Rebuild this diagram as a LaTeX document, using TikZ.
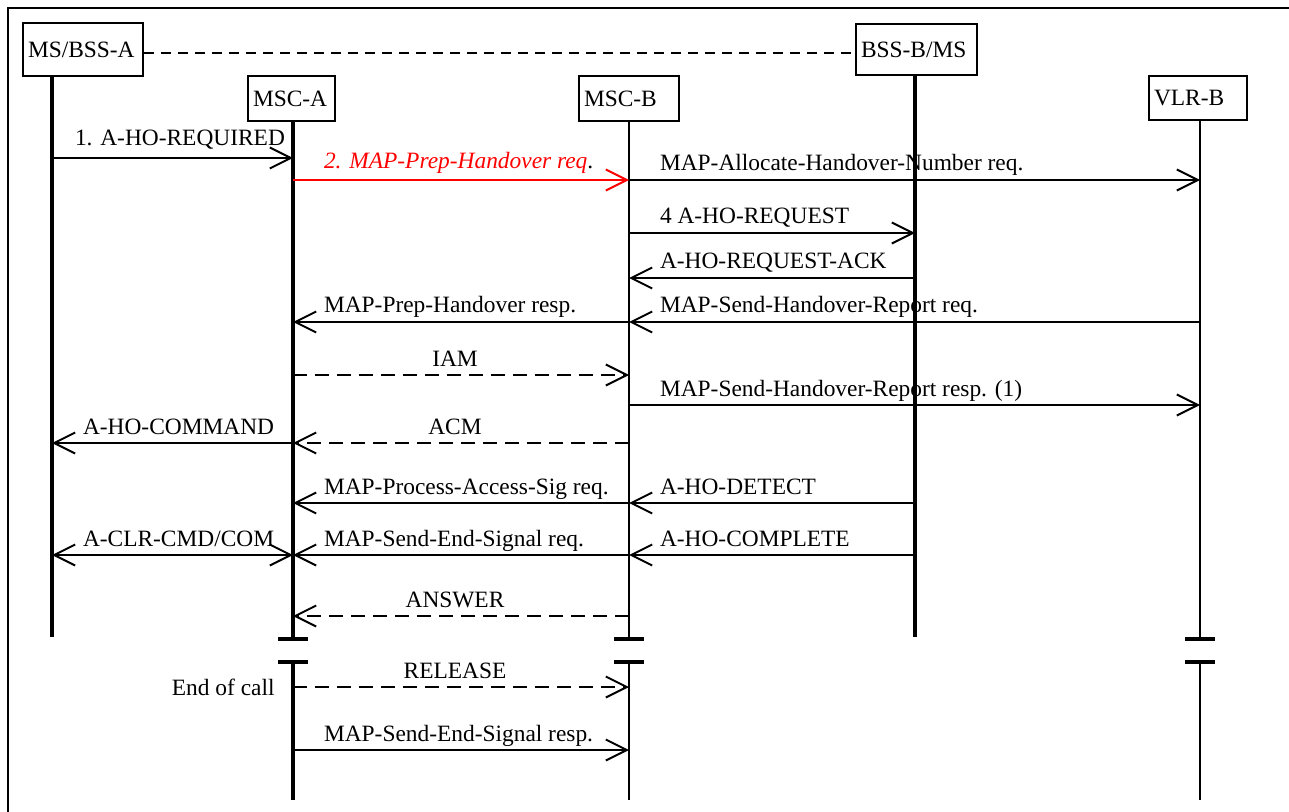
\documentclass[tikz,border=0pt]{standalone}
\usepackage{fontspec}
\setmainfont{Liberation Serif}
\usetikzlibrary{arrows.meta}

\tikzset{
  >={Straight Barb[length=10.5pt, width=10.5pt]},
  entity/.style={draw, line width=1pt, anchor=north west, inner xsep=2.5pt, inner ysep=0pt, align=left},
  life/.style={line width=2pt},
  lifethin/.style={line width=1.35pt},
  bar/.style={line width=2pt},
  msg/.style={line width=1pt, ->},
  ret/.style={msg, dash pattern=on 7pt off 4pt},
  lbl/.style={anchor=base west, inner sep=0pt, xshift=15pt, yshift=4.5pt},
  clbl/.style={anchor=base, inner sep=0pt, xshift=-3pt, yshift=4.5pt}
}

\begin{document}
\begin{tikzpicture}[x=0.5pt, y=-0.5pt, font=\fontsize{11.7}{14}\selectfont]
\useasboundingbox (0,0) rectangle (1289,812);
% frame
\draw[line width=1pt] (8,812) -- (8,8) -- (1289,8);

% entities
\node[entity, text width=55pt, minimum height=26.5pt] (msa) at (22,22) {MS/BSS-A};
\node[entity, text width=38.5pt, minimum height=22.5pt] (msca) at (247,75) {MSC-A};
\node[entity, text width=45pt, minimum height=22.5pt] (mscb) at (578,75) {MSC-B};
\node[entity, text width=55.5pt, minimum height=25.5pt] (bssb) at (855,23) {BSS-B/MS};
\node[entity, text width=44pt, minimum height=22pt] (vlrb) at (1148,75) {VLR-B};
\draw[line width=1pt, dash pattern=on 5pt off 3.5pt] ([yshift=-2pt]msa.east) -- ([yshift=-2pt]bssb.west);

% lifelines
\coordinate (la) at (52,75);
\coordinate (lb) at (293,120);
\coordinate (lc) at (629,120);
\coordinate (ld) at (915,74);
\coordinate (le) at (1200,119);
\draw[life] (la) -- (la |- 0,637);
\draw[life] (ld) -- (ld |- 0,637);
\foreach \l/\w in {lb/life, lc/lifethin, le/lifethin}{
  \draw[\w] (\l) -- (\l |- 0,639);
  \draw[bar] (\l |- 0,639) ++(-15,0) -- ++(30,0);
  \draw[bar] (\l |- 0,662) ++(-15,0) -- ++(30,0);
  \draw[\w] (\l |- 0,662) -- (\l |- 0,800);
}

% messages
\draw[msg] (la |- 0,158) -- (lb |- 0,158) node[lbl, pos=0, xshift=-4pt, yshift=1.5pt] {1. A-HO-REQUIRED};
\draw[msg, red] (lb |- 0,180) -- (lc |- 0,180) node[lbl, pos=0, yshift=1pt] {\textit{2. MAP-Prep-Handover req}\textcolor{black}{.}};
\draw[msg] (lc |- 0,180) -- (le |- 0,180) node[lbl, pos=0] {MAP-Allocate-Handover-Number req.};
\draw[msg] (lc |- 0,233) -- (ld |- 0,233) node[lbl, pos=0] {4 A-HO-REQUEST};
\draw[msg] (ld |- 0,278) -- (lc |- 0,278) node[lbl, pos=1] {A-HO-REQUEST-ACK};
\draw[msg] (lc |- 0,322) -- (lb |- 0,322) node[lbl, pos=1] {MAP-Prep-Handover resp.};
\draw[msg] (le |- 0,322) -- (lc |- 0,322) node[lbl, pos=1] {MAP-Send-Handover-Report req.};
\draw[ret] (lb |- 0,375) -- node[clbl] {IAM} (lc |- 0,375);
\draw[msg] (lc |- 0,405) -- (le |- 0,405) node[lbl, pos=0] {MAP-Send-Handover-Report resp. (1)};
\draw[ret] (lc |- 0,443) -- node[clbl] {ACM} (lb |- 0,443);
\draw[msg] (lb |- 0,443) -- (la |- 0,443) node[lbl, pos=1] {A-HO-COMMAND};
\draw[msg] (lc |- 0,503) -- (lb |- 0,503) node[lbl, pos=1] {MAP-Process-Access-Sig req.};
\draw[msg] (ld |- 0,503) -- (lc |- 0,503) node[lbl, pos=1] {A-HO-DETECT};
\draw[msg, <->] (la |- 0,555) -- (lb |- 0,555) node[lbl, pos=0] {A-CLR-CMD/COM};
\draw[msg] (lc |- 0,555) -- (lb |- 0,555) node[lbl, pos=1] {MAP-Send-End-Signal req.};
\draw[msg] (ld |- 0,555) -- (lc |- 0,555) node[lbl, pos=1] {A-HO-COMPLETE};
\draw[ret] (lc |- 0,616) -- node[clbl] {ANSWER} (lb |- 0,616);
\draw[ret] (lb |- 0,687) -- node[clbl] {RELEASE} (lc |- 0,687);
\node[anchor=east, inner sep=0pt, xshift=-9pt] (eoc) at (lb |- 0,687) {End of call};
\draw[msg] (lb |- 0,750) -- (lc |- 0,750) node[lbl, pos=0] {MAP-Send-End-Signal resp.};
\end{tikzpicture}
\end{document}
